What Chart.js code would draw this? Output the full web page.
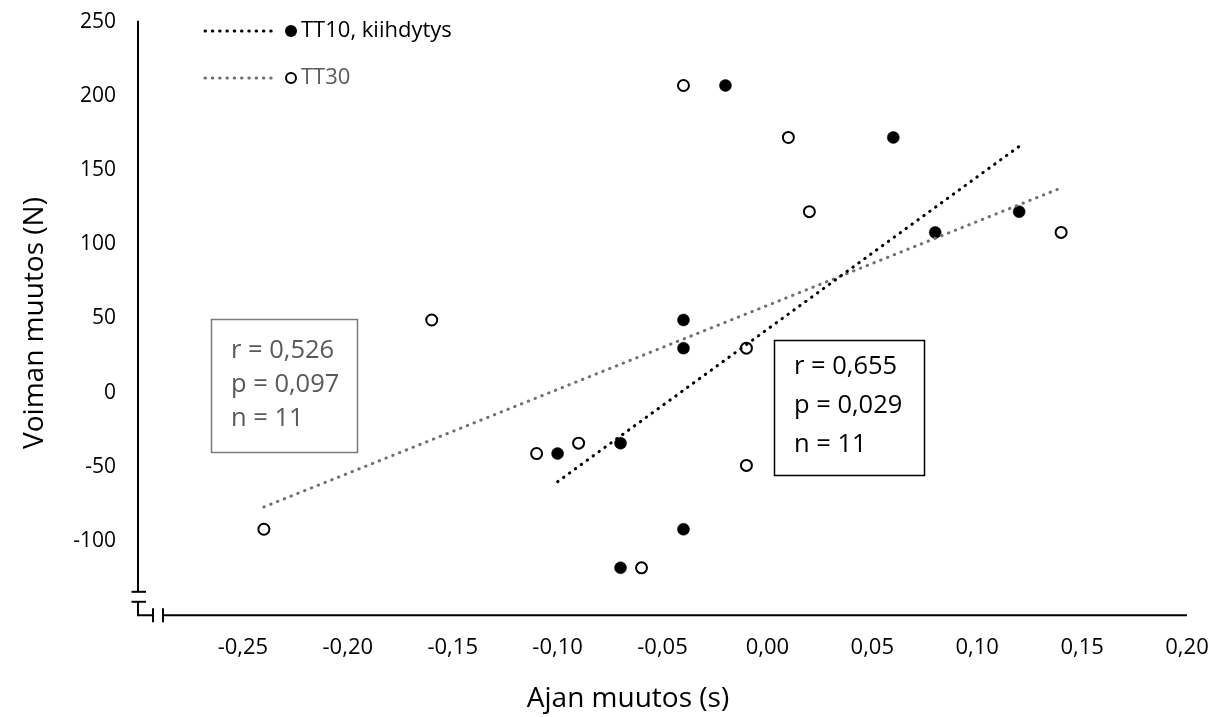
<!DOCTYPE html>
<html>
<head>
<meta charset="utf-8">
<script src="https://cdn.jsdelivr.net/npm/chart.js@4/dist/chart.umd.min.js"></script>
<style>
  html, body { margin: 0; padding: 0; background: #fff; }
  canvas { display: block; }
</style>
</head>
<body>
<canvas id="c" width="1227" height="717"></canvas>
<script>
// Change in time (s) and change in force (N) for each subject
const tt10Time  = [-0.02, 0.06, 0.12, 0.08, -0.04, -0.04, -0.07, -0.10, -0.04, -0.07];
const tt10Force = [207, 172, 122, 108, 49, 30, -34, -41, -92, -118];
const tt30Time  = [-0.04, 0.01, 0.02, 0.14, -0.16, -0.01, -0.09, -0.11, -0.01, -0.24, -0.06];
const tt30Force = [207, 172, 122, 108, 49, 30, -34, -41, -49, -92, -118];

// Linear trend lines (end points)
const tt10TrendTime  = [-0.10, 0.12];
const tt10TrendForce = [-60, 166];
const tt30TrendTime  = [-0.24, 0.14];
const tt30TrendForce = [-77, 138];

const seriesNames = ['TT10, kiihdytys', 'TT30'];
const tt10Stats = ['r = 0,655', 'p = 0,029', 'n = 11'];
const tt30Stats = ['r = 0,526', 'p = 0,097', 'n = 11'];
const xTitle = 'Ajan muutos (s)';
const yTitle = 'Voiman muutos (N)';

const xMin = -0.30, xMax = 0.20, xStep = 0.05;
const yMin = -150, yMax = 250, yStep = 50;

const FONT = "'Open Sans', 'Noto Sans', sans-serif";
const GREY_TEXT = '#595959';
const GREY_LINE = '#707070';
const DOTS = [0.5, 6.8];

const toPoints = (xs, ys) => xs.map((x, i) => ({ x, y: ys[i] }));

// Axis lines with break marks, legend and statistics boxes
const decorations = {
  id: 'decorations',
  afterDatasetsDraw(chart) {
    const ctx = chart.ctx;
    const xs = chart.scales.x, ys = chart.scales.y;
    const L = xs.getPixelForValue(xMin);
    const R = xs.getPixelForValue(xMax);
    const T = ys.getPixelForValue(yMax);
    const B = ys.getPixelForValue(yMin);

    ctx.save();
    ctx.strokeStyle = '#000';
    ctx.lineWidth = 2;
    ctx.lineCap = 'butt';
    const seg = (pts) => {
      ctx.beginPath();
      ctx.moveTo(pts[0][0], pts[0][1]);
      for (let i = 1; i < pts.length; i++) ctx.lineTo(pts[i][0], pts[i][1]);
      ctx.stroke();
    };
    // vertical axis, broken near the origin
    seg([[L, T - 1], [L, B - 23.5]]);
    seg([[L - 6.5, B - 23.5], [L + 8, B - 23.5]]);
    seg([[L - 6.5, B - 13.5], [L + 8, B - 13.5]]);
    seg([[L, B - 13.5], [L, B], [L + 15, B]]);
    // horizontal axis, broken near the origin
    seg([[L + 15, B - 7], [L + 15, B + 7]]);
    seg([[L + 25, B - 7], [L + 25, B + 7]]);
    seg([[L + 25, B], [R, B]]);

    // axis titles
    ctx.fillStyle = '#000';
    ctx.font = `28px ${FONT}`;
    ctx.textAlign = 'center';
    ctx.textBaseline = 'middle';
    ctx.fillText(xTitle, 628, 699);
    ctx.save();
    ctx.translate(35, 323);
    ctx.rotate(-Math.PI / 2);
    ctx.fillText(yTitle, 0, 0);
    ctx.restore();

    // legend
    const rows = [
      { y: 31, line: '#000', text: '#000', filled: true },
      { y: 78, line: GREY_LINE, text: GREY_TEXT, filled: false }
    ];
    rows.forEach((r, i) => {
      ctx.save();
      ctx.strokeStyle = r.line;
      ctx.lineWidth = 3;
      ctx.lineCap = 'round';
      ctx.setLineDash(DOTS);
      ctx.beginPath();
      ctx.moveTo(205, r.y);
      ctx.lineTo(272, r.y);
      ctx.stroke();
      ctx.restore();
      ctx.beginPath();
      if (r.filled) {
        ctx.arc(291, r.y, 6, 0, Math.PI * 2);
        ctx.fillStyle = '#000';
        ctx.fill();
      } else {
        ctx.arc(291, r.y, 5, 0, Math.PI * 2);
        ctx.fillStyle = '#fff';
        ctx.fill();
        ctx.lineWidth = 2;
        ctx.strokeStyle = '#000';
        ctx.stroke();
      }
      ctx.fillStyle = r.text;
      ctx.font = `22px ${FONT}`;
      ctx.textAlign = 'left';
      ctx.textBaseline = 'middle';
      ctx.fillText(seriesNames[i], 301, r.y);
    });

    // statistics boxes
    const box = (x, y, w, h, border, color, lines, rowY, tx) => {
      ctx.save();
      ctx.fillStyle = '#fff';
      ctx.fillRect(x, y, w, h);
      ctx.strokeStyle = border;
      ctx.lineWidth = 1.5;
      ctx.strokeRect(x, y, w, h);
      ctx.fillStyle = color;
      ctx.font = `25.5px ${FONT}`;
      ctx.textAlign = 'left';
      ctx.textBaseline = 'middle';
      lines.forEach((t, i) => ctx.fillText(t, tx, rowY[i]));
      ctx.restore();
    };
    box(211.5, 319.5, 146, 133, '#7a7a7a', GREY_TEXT, tt30Stats, [351, 385, 419], 231);
    box(774.5, 340.5, 150, 135, '#000', '#000', tt10Stats, [367, 406, 445], 794);
    ctx.restore();
  }
};

const commaLabel = (v, digits) => v.toFixed(digits).replace('.', ',');

new Chart(document.getElementById('c'), {
  type: 'scatter',
  data: {
    datasets: [
      {
        label: 'TT10 trend',
        data: toPoints(tt10TrendTime, tt10TrendForce),
        showLine: true,
        borderColor: '#000',
        borderWidth: 3,
        borderDash: DOTS,
        borderCapStyle: 'round',
        pointRadius: 0,
        order: 0
      },
      {
        label: 'TT30 trend',
        data: toPoints(tt30TrendTime, tt30TrendForce),
        showLine: true,
        borderColor: GREY_LINE,
        borderWidth: 3,
        borderDash: DOTS,
        borderCapStyle: 'round',
        pointRadius: 0,
        order: 1
      },
      {
        label: seriesNames[1],
        data: toPoints(tt30Time, tt30Force),
        pointRadius: 5.5,
        pointBorderWidth: 2,
        pointBackgroundColor: '#fff',
        pointBorderColor: '#000',
        order: 2
      },
      {
        label: seriesNames[0],
        data: toPoints(tt10Time, tt10Force),
        pointRadius: 6,
        pointBorderWidth: 0.5,
        pointBackgroundColor: '#000',
        pointBorderColor: '#000',
        order: 3
      }
    ]
  },
  options: {
    responsive: false,
    animation: false,
    events: [],
    layout: { padding: { top: 21.7, right: 40, bottom: 0, left: 0 } },
    plugins: {
      legend: { display: false },
      tooltip: { enabled: false }
    },
    scales: {
      x: {
        type: 'linear',
        min: xMin, max: xMax,
        grid: { display: false, drawTicks: false },
        border: { display: false },
        ticks: {
          stepSize: xStep,
          autoSkip: false,
          maxRotation: 0,
          padding: 19,
          color: '#000',
          font: { family: FONT, size: 22 },
          callback: (v) => (Math.abs(v - xMin) < 1e-9 ? '' : commaLabel(Math.round(v * 100) / 100, 2))
        },
        afterFit: (s) => { s.height = 717 - 615.3; s.paddingLeft = 0; s.paddingRight = 0; }
      },
      y: {
        type: 'linear',
        min: yMin, max: yMax,
        grid: { display: false, drawTicks: false },
        border: { display: false },
        ticks: {
          stepSize: yStep,
          padding: 22,
          color: '#000',
          font: { family: FONT, size: 21 },
          callback: (v) => (v === yMin ? '' : String(v))
        },
        afterFit: (s) => { s.width = 138; s.paddingTop = 0; s.paddingBottom = 0; }
      }
    }
  },
  plugins: [decorations]
});
</script>
</body>
</html>
